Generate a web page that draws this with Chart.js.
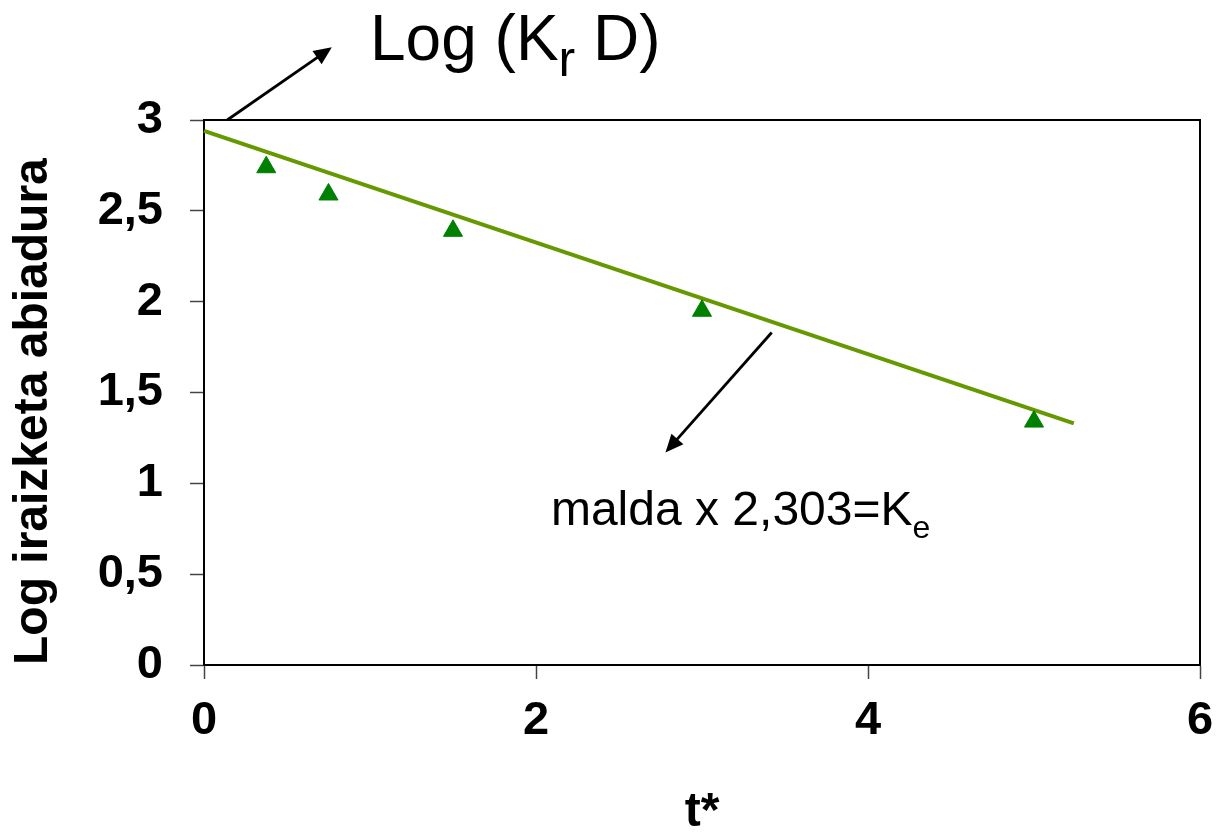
<!DOCTYPE html>
<html>
<head>
<meta charset="utf-8">
<script src="https://cdn.jsdelivr.net/npm/chart.js@4.4.1/dist/chart.umd.min.js"></script>
<style>
    html, body { margin: 0; padding: 0; background: #fff; }
    canvas { display: block; }
</style>
</head>
<body>
<canvas id="chart" width="1217" height="832"></canvas>
<script>
// measured points (t*, log of excretion rate)
const tValues = [0.375, 0.75, 1.5, 3, 5];
const logRates = [2.74, 2.59, 2.39, 1.95, 1.34];

// fitted line end points
const fitT = [0, 5.24];
const fitLog = [2.94, 1.33];

const xTicks = [0, 2, 4, 6];
const yTicks = [0, 0.5, 1, 1.5, 2, 2.5, 3];

const FONT = "'Liberation Sans', Arial, sans-serif";

function drawArrow(ctx, x1, y1, x2, y2) {
    const ang = Math.atan2(y2 - y1, x2 - x1);
    const len = 18, half = 8;
    ctx.save();
    ctx.strokeStyle = '#000';
    ctx.fillStyle = '#000';
    ctx.lineWidth = 2.8;
    ctx.beginPath();
    ctx.moveTo(x1, y1);
    ctx.lineTo(x2 - Math.cos(ang) * len * 0.8, y2 - Math.sin(ang) * len * 0.8);
    ctx.stroke();
    ctx.beginPath();
    ctx.moveTo(x2, y2);
    ctx.lineTo(x2 - Math.cos(ang) * len + Math.sin(ang) * half, y2 - Math.sin(ang) * len - Math.cos(ang) * half);
    ctx.lineTo(x2 - Math.cos(ang) * len - Math.sin(ang) * half, y2 - Math.sin(ang) * len + Math.cos(ang) * half);
    ctx.closePath();
    ctx.fill();
    ctx.restore();
}

function drawSubText(ctx, x, y, parts, size) {
    // parts: [text, isSub, subSize, drop]
    ctx.save();
    ctx.fillStyle = '#000';
    ctx.textBaseline = 'alphabetic';
    ctx.textAlign = 'left';
    parts.forEach(([txt, sub, subSize, drop]) => {
        const s = sub ? subSize : size;
        ctx.font = s + 'px ' + FONT;
        ctx.fillText(txt, x, sub ? y + drop : y);
        x += ctx.measureText(txt).width;
    });
    ctx.restore();
}

const framePlugin = {
    id: 'frame',
    beforeDatasetsDraw(chart) {
        const { ctx, chartArea: a } = chart;
        ctx.save();
        ctx.strokeStyle = '#000';
        ctx.lineWidth = 2;
        ctx.strokeRect(a.left, a.top, a.right - a.left, a.bottom - a.top);
        ctx.restore();
    }
};

const notesPlugin = {
    id: 'notes',
    afterDraw(chart) {
        const { ctx, scales: { x, y } } = chart;
        drawArrow(ctx, x.getPixelForValue(0.14), y.getPixelForValue(3.0),
                  x.getPixelForValue(0.77), y.getPixelForValue(3.40));
        drawArrow(ctx, x.getPixelForValue(3.42), y.getPixelForValue(1.83),
                  x.getPixelForValue(2.78), y.getPixelForValue(1.17));

        drawSubText(ctx, x.getPixelForValue(1.0), y.getPixelForValue(3.33),
            [['Log (K', false], ['r', true, 50, 16], [' D)', false]], 64);
        drawSubText(ctx, x.getPixelForValue(2.09), y.getPixelForValue(0.77),
            [['malda x 2,303=K', false], ['e', true, 32, 13]], 48);
    }
};

const ctx = document.getElementById('chart').getContext('2d');
new Chart(ctx, {
    type: 'scatter',
    data: {
        datasets: [
            {
                label: 'fit',
                type: 'line',
                data: fitT.map((t, i) => ({ x: t, y: fitLog[i] })),
                borderColor: '#669900',
                borderWidth: 4,
                pointRadius: 0,
                fill: false,
                clip: false,
                order: 2
            },
            {
                label: 'Log iraizketa abiadura',
                data: tValues.map((t, i) => ({ x: t, y: logRates[i] })),
                pointStyle: 'triangle',
                pointRadius: 11,
                backgroundColor: '#008000',
                borderColor: '#008000',
                borderWidth: 1,
                clip: false,
                order: 1
            }
        ]
    },
    options: {
        responsive: false,
        animation: false,
        layout: { padding: { left: 0, top: 120, right: 17, bottom: 0 } },
        plugins: {
            legend: { display: false },
            tooltip: { enabled: false }
        },
        scales: {
            x: {
                type: 'linear',
                min: 0,
                max: 6,
                afterFit: (axis) => {
                    axis.height = 167;
                    axis.paddingLeft = 0;
                    axis.paddingRight = 0;
                },
                afterBuildTicks: (axis) => { axis.ticks = xTicks.map(v => ({ value: v })); },
                grid: { drawOnChartArea: false, drawTicks: true, tickLength: 14, tickColor: '#444', tickWidth: 1.5 },
                border: { display: true, color: '#000', width: 2 },
                ticks: {
                    color: '#000',
                    padding: 14,
                    font: { family: FONT, size: 47, weight: 'bold' }
                },
                title: {
                    display: true,
                    text: 't*',
                    color: '#000',
                    padding: 0,
                    font: { family: FONT, size: 48, weight: 'bold', lineHeight: 0.8 }
                }
            },
            y: {
                type: 'linear',
                min: 0,
                max: 3,
                afterFit: (axis) => {
                    axis.width = 204;
                    axis.paddingTop = 0;
                    axis.paddingBottom = 0;
                },
                afterBuildTicks: (axis) => { axis.ticks = yTicks.map(v => ({ value: v })); },
                grid: { drawOnChartArea: false, drawTicks: true, tickLength: 14, tickColor: '#444', tickWidth: 1.5 },
                border: { display: true, color: '#000', width: 2 },
                ticks: {
                    color: '#000',
                    padding: 27,
                    font: { family: FONT, size: 47, weight: 'bold' },
                    callback: (v) => String(v).replace('.', ',')
                },
                title: {
                    display: true,
                    text: 'Log iraizketa abiadura',
                    align: 'start',
                    color: '#000',
                    padding: { top: 5, bottom: 0 },
                    font: { family: FONT, size: 48, weight: 'bold' }
                }
            }
        }
    },
    plugins: [framePlugin, notesPlugin]
});
</script>
</body>
</html>
